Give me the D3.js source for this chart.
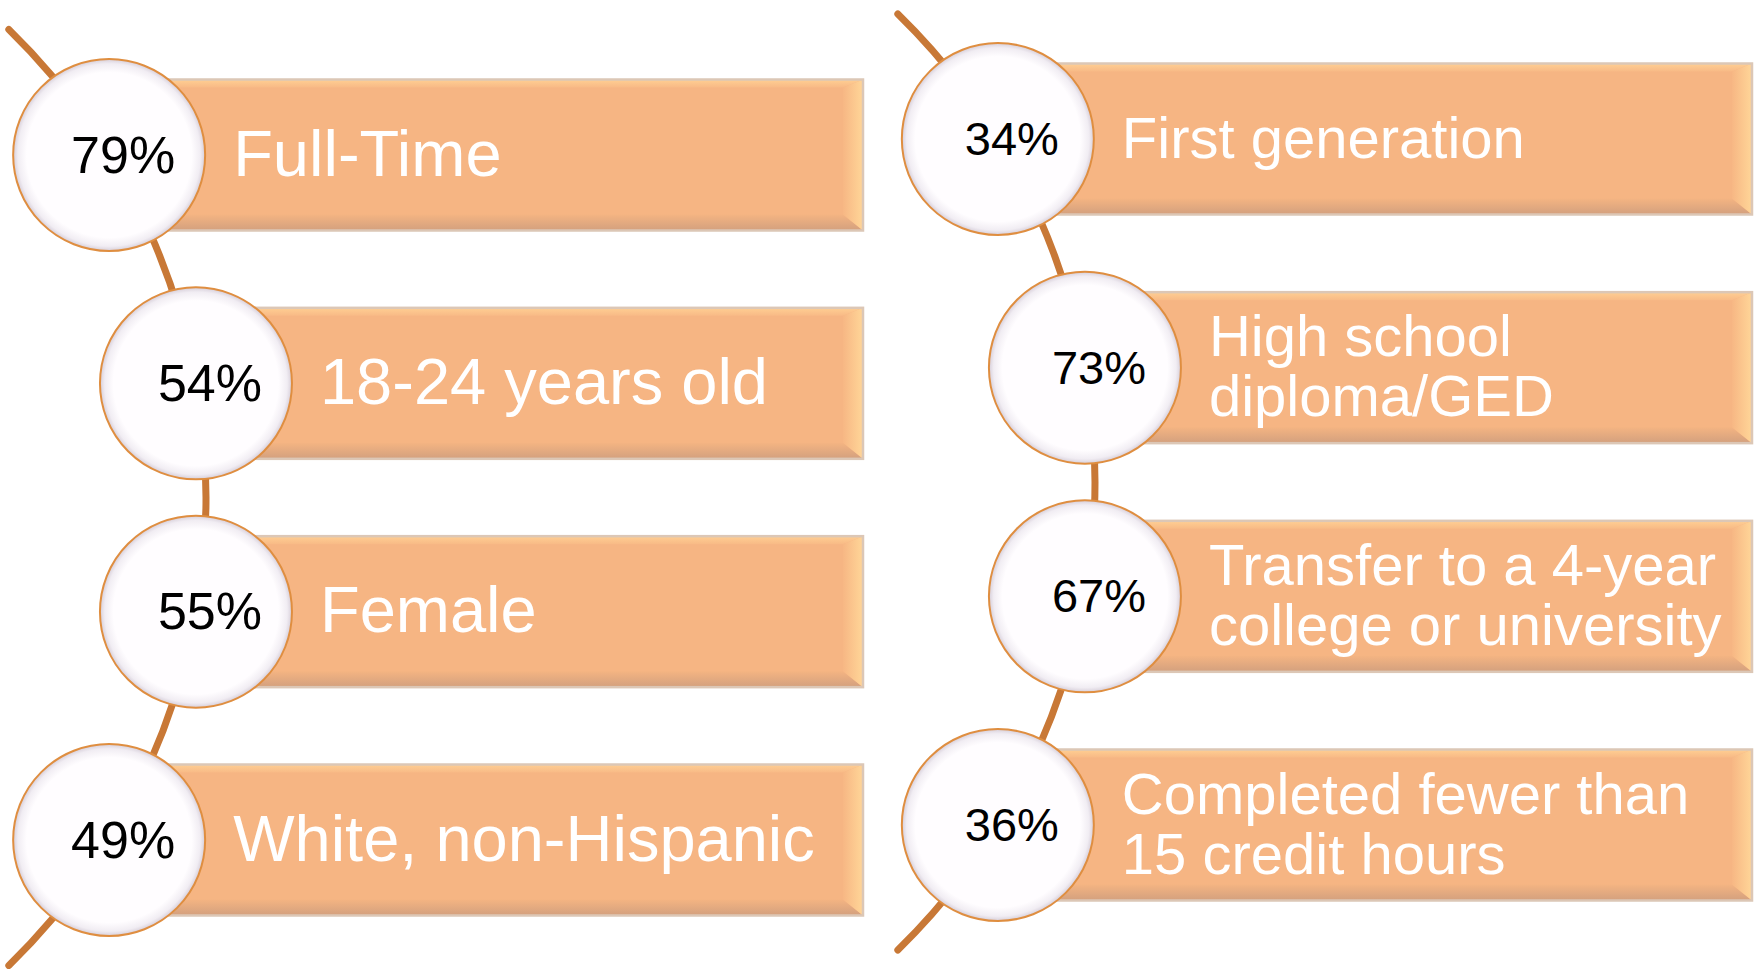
<!DOCTYPE html>
<html>
<head>
<meta charset="utf-8">
<script src="https://cdn.jsdelivr.net/npm/d3@7"></script>
<style>
  body { margin: 0; background: #fff; }
  svg { display: block; font-family: "Liberation Sans", Arial, sans-serif; }
</style>
</head>
<body>
<svg></svg>
<script>
// data
const leftCategories = ["Full-Time", "18-24 years old", "Female", "White, non-Hispanic"];
const leftValues = [79, 54, 55, 49];
const rightCategories = ["First generation", "High school\ndiploma/GED", "Transfer to a 4-year\ncollege or university", "Completed fewer than\n15 credit hours"];
const rightValues = [34, 73, 67, 36];

const svgWidth = 1759, svgHeight = 969;
const svg = d3.select("svg").attr("width", svgWidth).attr("height", svgHeight);
const defs = svg.append("defs");

const pct = d3.format(".0%");

// gradients for the bevelled bars and the circles
function linGrad(id, x2, y2, stops) {
  const g = defs.append("linearGradient").attr("id", id)
    .attr("x1", 0).attr("y1", 0).attr("x2", x2).attr("y2", y2);
  stops.forEach(s => g.append("stop").attr("offset", s[0]).attr("stop-color", s[1]));
}
linGrad("bevTop", 0, 1, [[0, "#FFCF93"], [1, "#F8BA86"]]);
linGrad("bevRight", 1, 0, [[0, "#F7B784"], [1, "#FFD698"]]);
linGrad("bevBottom", 0, 1, [[0, "#F4B482"], [1, "#D3A07E"]]);
const rg = defs.append("radialGradient").attr("id", "circFill");
[[0, "#FFFDFF"], [0.86, "#FFFDFF"], [0.95, "#F1EDF3"], [1, "#D6CED9"]]
  .forEach(s => rg.append("stop").attr("offset", s[0]).attr("stop-color", s[1]));

function drawPanel(categories, values, opt) {
  const g = svg.append("g").attr("transform", `translate(${opt.dx},${opt.dy})`);

  const y = d3.scalePoint().domain(categories).range(opt.yRange);
  const arcCx = -448, arcCy = (opt.yRange[0] + opt.yRange[1]) / 2, arcR = 654;
  const x = c => arcCx + Math.sqrt(arcR * arcR - Math.pow(y(c) - arcCy, 2));

  // curved connector
  const a = Math.asin(468 / arcR);
  const p = d3.path();
  p.arc(arcCx, arcCy, arcR, -a, a);
  g.append("path").attr("d", p.toString())
    .attr("fill", "none").attr("stroke", "#C87836")
    .attr("stroke-width", 7).attr("stroke-linecap", "round");

  const barH = 151, bt = 8, br = 20, bb = 16;
  const rows = g.selectAll("g.row").data(categories).join("g").attr("class", "row");

  rows.each(function(c, i) {
    const r = d3.select(this);
    const x0 = x(c), x1 = opt.barRight, y0 = y(c) - barH / 2, y1 = y(c) + barH / 2;
    r.append("rect").attr("x", x0).attr("y", y0).attr("width", x1 - x0).attr("height", barH)
      .attr("fill", "#F6B583");
    const poly = (pts, fill) => r.append("polygon")
      .attr("points", pts.map(d => d.join(",")).join(" ")).attr("fill", fill);
    poly([[x0, y0], [x1, y0], [x1 - br, y0 + bt], [x0, y0 + bt]], "url(#bevTop)");
    poly([[x1 - br, y1 - bb], [x1, y1], [x0, y1], [x0, y1 - bb]], "url(#bevBottom)");
    poly([[x1, y0], [x1, y1], [x1 - br, y1 - bb], [x1 - br, y0 + bt]], "url(#bevRight)");
    r.append("rect").attr("x", x0).attr("y", y0).attr("width", x1 - x0).attr("height", barH)
      .attr("fill", "none").attr("stroke", "#DCC7B6").attr("stroke-width", 2.5);

    // label
    const lines = c.split("\n");
    const t = r.append("text").attr("fill", "#fff").attr("font-size", opt.labelSize)
      .attr("x", x0 + 124);
    lines.forEach((ln, k) => {
      t.append("tspan").attr("x", x0 + 124)
        .attr("y", y(c) + opt.labelSize * 0.32 + (k - (lines.length - 1) / 2) * opt.lineH)
        .text(ln);
    });
  });

  // circles with percentages
  const circ = g.selectAll("g.circ").data(categories).join("g").attr("class", "circ");
  circ.append("circle").attr("cx", c => x(c)).attr("cy", c => y(c)).attr("r", 96)
    .attr("fill", "url(#circFill)").attr("stroke", "#DF8E40").attr("stroke-width", 2);
  circ.append("text").attr("x", c => x(c) + 14).attr("y", c => y(c) + opt.pctSize * 0.34)
    .attr("text-anchor", "middle").attr("font-size", opt.pctSize).attr("fill", "#000")
    .text((c, i) => pct(values[i] / 100));
}

drawPanel(leftCategories, leftValues,
  {dx: 0, dy: 0, yRange: [155, 840], barRight: 863, labelSize: 65, pctSize: 52, lineH: 60});
drawPanel(rightCategories, rightValues,
  {dx: 889, dy: 0, yRange: [139, 825], barRight: 863, labelSize: 58, pctSize: 47, lineH: 60});
</script>
</body>
</html>
